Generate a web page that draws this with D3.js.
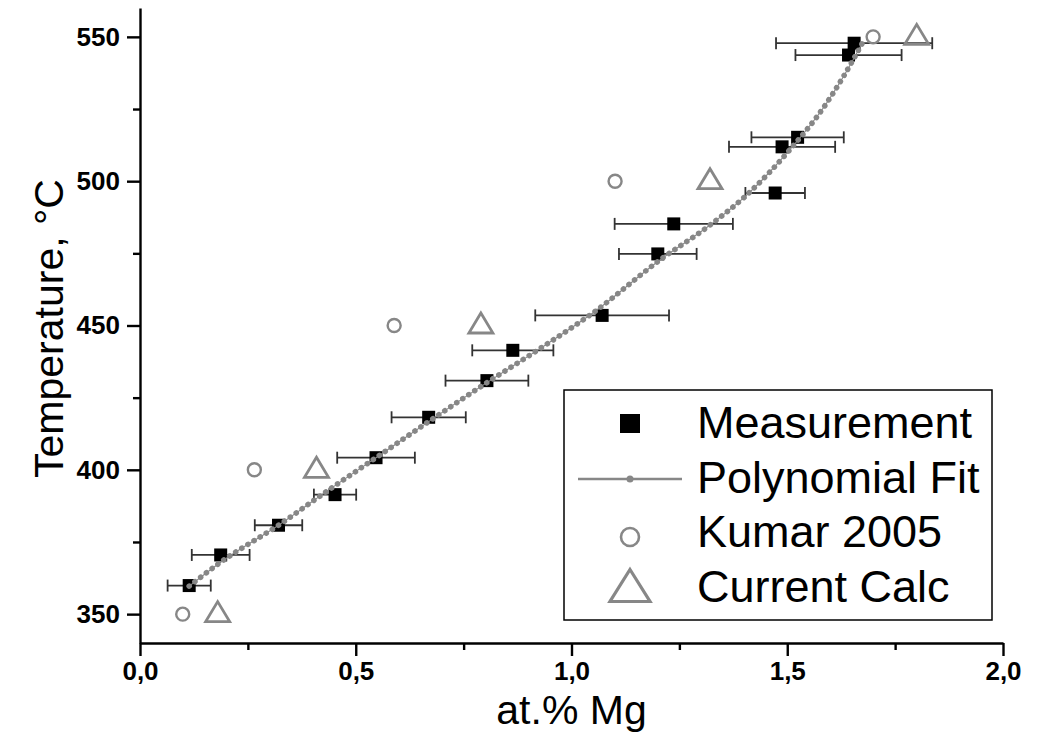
<!DOCTYPE html>
<html><head><meta charset="utf-8">
<script src="https://cdn.jsdelivr.net/npm/d3@7"></script>
<style>body{margin:0;background:#fff} text{font-family:"Liberation Sans",Arial,sans-serif}</style>
</head><body><svg id="c" width="1044" height="735"></svg>
<script>
// ---- data ----
const measX   = [0.114, 0.187, 0.321, 0.452, 0.547, 0.669, 0.804, 0.864, 1.071, 1.200, 1.237, 1.472, 1.488, 1.524, 1.642, 1.655];
const measT   = [359.9, 370.5, 380.8, 391.4, 404.2, 418.2, 430.9, 441.4, 453.5, 474.8, 485.2, 495.9, 511.9, 515.2, 543.7, 547.8];
const measErr = [0.050, 0.067, 0.055, 0.049, 0.090, 0.086, 0.096, 0.094, 0.155, 0.090, 0.137, 0.069, 0.123, 0.107, 0.123, 0.181];
const fitX = [0.114, 0.187, 0.321, 0.440, 0.547, 0.669, 0.804, 0.927, 1.051, 1.205, 1.321, 1.406, 1.499, 1.591, 1.630, 1.657, 1.676];
const fitT = [359.7, 368.0, 380.8, 393.3, 404.2, 416.7, 430.2, 442.0, 454.5, 472.7, 484.8, 495.2, 509.7, 527.0, 536.2, 543.2, 548.4];
const kumarX = [0.099, 0.265, 0.589, 1.101, 1.699];
const kumarT = [350, 400, 450, 500, 550];
const calcX  = [0.180, 0.409, 0.790, 1.321, 1.800];
const calcT  = [350, 400, 450, 500, 550];
const xTicks = [0, 0.5, 1.0, 1.5, 2.0];
const xMinor = [0.25, 0.75, 1.25, 1.75];
const yTicks = [350, 400, 450, 500, 550];
const yMinor = [375, 425, 475, 525];
const legendLabels = ["Measurement", "Polynomial Fit", "Kumar 2005", "Current Calc"];
const xTitle = "at.% Mg";
const yTitle = "Temperature, °C";

// ---- layout ----
const svg = d3.select("#c");
const L = 140, R = 1003, T = 8, B = 643;
const x = d3.scaleLinear().domain([0, 2]).range([L, R]);
const y = d3.scaleLinear().domain([340, 560]).range([B, T]);
const GRAY = "#878787";
const fmt = d => d.toFixed(1).replace(".", ",");

// axes
const gx = svg.append("g").attr("transform", `translate(0,${B})`)
  .call(d3.axisBottom(x).tickValues(xTicks).tickFormat(fmt).tickSizeInner(13).tickSizeOuter(0).tickPadding(6));
const gxm = svg.append("g").attr("transform", `translate(0,${B})`)
  .call(d3.axisBottom(x).tickValues(xMinor).tickFormat("").tickSizeInner(7).tickSizeOuter(0));
const gy = svg.append("g").attr("transform", `translate(${L},0)`)
  .call(d3.axisLeft(y).tickValues(yTicks).tickFormat(d3.format("d")).tickSizeInner(13).tickSizeOuter(0).tickPadding(7));
const gym = svg.append("g").attr("transform", `translate(${L},0)`)
  .call(d3.axisLeft(y).tickValues(yMinor).tickFormat("").tickSizeInner(7).tickSizeOuter(0));
[gx, gxm, gy, gym].forEach(g => {
  g.selectAll("path.domain").attr("stroke", "#000").attr("stroke-width", 2.4);
  g.selectAll(".tick line").attr("stroke", "#000").attr("stroke-width", 2.4);
  g.selectAll(".tick text").attr("fill", "#000").style("font-size", "26px").style("font-weight", "bold")
    .style("font-family", '"Liberation Sans", Arial, sans-serif');
});
gxm.select("path.domain").remove();
gym.select("path.domain").remove();

// axis titles
svg.append("text").attr("x", (L + R) / 2).attr("y", 724).attr("text-anchor", "middle")
  .style("font-size", "41px").text(xTitle);
svg.append("text").attr("transform", `translate(63,${(T + B) / 2 + 3}) rotate(-90)`).attr("text-anchor", "middle")
  .style("font-size", "41px").text(yTitle);

// measurement data
const meas = measX.map((v, i) => ({x: v, t: measT[i], e: measErr[i]}));
const eb = svg.append("g").attr("stroke", "#333").attr("stroke-width", 1.8);
meas.forEach(d => {
  const yy = y(d.t), x0 = x(d.x - d.e), x1 = x(d.x + d.e);
  eb.append("line").attr("x1", x0).attr("x2", x1).attr("y1", yy).attr("y2", yy);
  eb.append("line").attr("x1", x0).attr("x2", x0).attr("y1", yy - 6).attr("y2", yy + 6);
  eb.append("line").attr("x1", x1).attr("x2", x1).attr("y1", yy - 6).attr("y2", yy + 6);
});

// Kumar circles
svg.append("g").selectAll("circle").data(kumarX.map((v, i) => [v, kumarT[i]])).join("circle")
  .attr("cx", d => x(d[0])).attr("cy", d => y(d[1])).attr("r", 6.5)
  .attr("fill", "none").attr("stroke", GRAY).attr("stroke-width", 2.4);

// Current Calc triangles
const tri = (w, h, dy) => `M0,${-h / 2 + dy}L${w / 2},${h / 2 + dy}L${-w / 2},${h / 2 + dy}Z`;
svg.append("g").selectAll("path").data(calcX.map((v, i) => [v, calcT[i]])).join("path")
  .attr("transform", d => `translate(${x(d[0])},${y(d[1])})`)
  .attr("d", tri(24, 20, -2.5)).attr("fill", "none").attr("stroke", GRAY).attr("stroke-width", 2.8);

// squares
svg.append("g").selectAll("rect").data(meas).join("rect")
  .attr("x", d => x(d.x) - 6.5).attr("y", d => y(d.t) - 6.5).attr("width", 13).attr("height", 13)
  .attr("fill", "#000");

// polynomial fit
const fitLine = d3.line().x(d => x(d[0])).y(d => y(d[1])).curve(d3.curveMonotoneX);
const fitData = fitX.map((v, i) => [v, fitT[i]]);
svg.append("path").attr("d", fitLine(fitData)).attr("fill", "none").attr("stroke", GRAY).attr("stroke-width", 1.1);
svg.append("path").attr("d", fitLine(fitData)).attr("fill", "none").attr("stroke", GRAY)
  .attr("stroke-width", 5.6).attr("stroke-linecap", "round").attr("stroke-dasharray", "0.01 7.2");

// legend
const lg = svg.append("g");
lg.append("rect").attr("x", 564).attr("y", 390).attr("width", 428).attr("height", 230)
  .attr("fill", "#fff").attr("stroke", "#000").attr("stroke-width", 1.5);
const rowsY = [438, 493, 547, 602];
legendLabels.forEach((t, i) => {
  lg.append("text").attr("x", 697).attr("y", rowsY[i]).style("font-size", "45px").attr("fill", "#000").text(t);
});
lg.append("rect").attr("x", 620).attr("y", 414).attr("width", 20).attr("height", 19).attr("fill", "#000");
lg.append("line").attr("x1", 578).attr("x2", 682).attr("y1", 479).attr("y2", 479).attr("stroke", GRAY).attr("stroke-width", 2.4);
lg.append("circle").attr("cx", 630).attr("cy", 479).attr("r", 3.5).attr("fill", GRAY);
lg.append("circle").attr("cx", 630).attr("cy", 537).attr("r", 9).attr("fill", "none").attr("stroke", GRAY).attr("stroke-width", 2.6);
lg.append("path").attr("transform", "translate(630,585.5)").attr("d", tri(40, 32, 0))
  .attr("fill", "none").attr("stroke", GRAY).attr("stroke-width", 3.2);
</script></body></html>
